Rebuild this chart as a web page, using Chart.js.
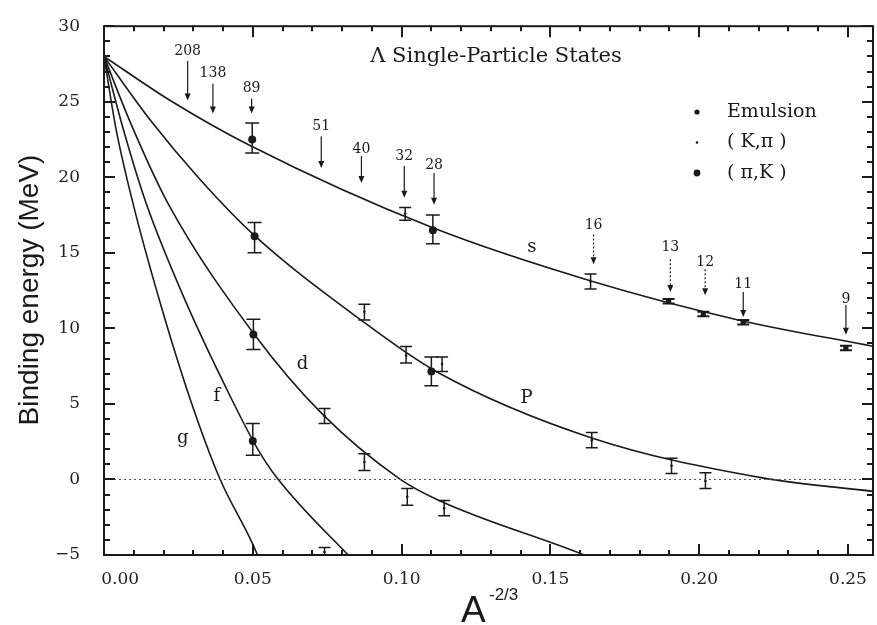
<!DOCTYPE html>
<html lang="en">
<head>
<meta charset="UTF-8">
<title>Lambda Single-Particle States</title>
<script src="https://cdn.jsdelivr.net/npm/chart.js"></script>
<style>
  html, body { margin: 0; padding: 0; background: #fff; }
</style>
</head>
<body>
<canvas id="myChart" width="877" height="625"></canvas>
<script>
// x = A^-2/3 of the core, y = Lambda binding energy (MeV)

// theory curves, one per orbit
const sCurveX = [0, 0.0221, 0.0489, 0.1103, 0.1639, 0.2131, 0.2590];
const sCurveY = [28.0, 25.1, 22.12, 16.67, 13.12, 10.56, 8.79];
const pCurveX = [0, 0.0154, 0.0322, 0.0506, 0.0858, 0.1116, 0.1639, 0.2208, 0.2590];
const pCurveY = [28.0, 23.82, 19.87, 16.14, 10.63, 7.15, 2.75, 0.12, -0.80];
const dCurveX = [0, 0.0087, 0.0214, 0.0506, 0.0734, 0.0992, 0.1126, 0.1605, 0.1629];
const dCurveY = [28.0, 23.7, 18.31, 9.58, 4.32, 0.06, -1.39, -4.93, -5.13];
const fCurveX = [0, 0.0064, 0.0141, 0.0275, 0.0429, 0.0516, 0.0583, 0.0814, 0.0831];
const fCurveY = [28.0, 23.24, 18.31, 11.75, 5.31, 2.03, 0.06, -4.87, -5.2];
const gCurveX = [0, 0.0040, 0.0097, 0.0188, 0.0292, 0.0389, 0.0513, 0.0519];
const gCurveY = [28.0, 23.24, 18.31, 11.75, 5.18, 0.06, -4.87, -5.2];

// (pi,K) points
const pikX  = [0.0498, 0.1105, 0.0506, 0.1100, 0.0502, 0.0500];
const pikY  = [22.5, 16.5, 16.1, 7.15, 9.6, 2.55];
const pikLo = [21.6, 15.6, 15.0, 6.2, 8.6, 1.6];
const pikHi = [23.6, 17.5, 17.0, 8.1, 10.6, 3.7];

// (K,pi) points
const kpiX  = [0.1012, 0.1635, 0.0875, 0.1015, 0.1136, 0.1639, 0.1907, 0.2021, 0.0741, 0.0875, 0.1019, 0.1143, 0.0741];
const kpiY  = [17.6, 13.1, 11.1, 8.2, 7.65, 2.6, 0.9, -0.1, 4.2, 1.15, -1.15, -1.9, -4.8];
const kpiLo = [17.15, 12.6, 10.55, 7.7, 7.15, 2.1, 0.4, -0.6, 3.7, 0.6, -1.7, -2.4, -5.1];
const kpiHi = [18.0, 13.6, 11.6, 8.8, 8.1, 3.1, 1.4, 0.45, 4.7, 1.7, -0.6, -1.4, -4.5];

// emulsion points
const emuX  = [0.1897, 0.2014, 0.2148, 0.2493];
const emuY  = [11.8, 10.95, 10.4, 8.7];
const emuLo = [11.65, 10.8, 10.25, 8.55];
const emuHi = [11.95, 11.1, 10.55, 8.85];

// mass number arrows
const arrowText  = ['208', '138', '89', '51', '40', '32', '28', '16', '13', '12', '11', '9'];
const arrowX     = [0.0281, 0.0366, 0.0496, 0.0730, 0.0865, 0.1009, 0.1109, 0.1645, 0.1903, 0.2020, 0.2148, 0.2493];
const arrowTextY = [28.36, 26.85, 25.86, 23.37, 21.86, 21.4, 20.81, 16.8, 15.36, 14.37, 12.93, 11.94];
const arrowTop   = [27.70, 26.19, 25.2, 22.71, 21.4, 20.74, 20.28, 16.21, 14.57, 13.91, 12.4, 11.55];
const arrowTip   = [25.08, 24.22, 24.22, 20.61, 19.63, 18.64, 18.18, 14.24, 12.4, 12.2, 10.76, 9.58];
const dottedArrows = ['16', '13', '12'];

// curve names
const curveNames = ['s', 'P', 'd', 'f', 'g'];
const curveNameX = [0.1438, 0.1420, 0.0667, 0.0379, 0.0265];
const curveNameY = [15.36, 5.38, 7.61, 5.51, 2.75];

const zeroX = [0, 0.2584];
const zeroY = [0, 0];

const pts = (xs, ys) => xs.map((v, i) => ({ x: v, y: ys[i] }));
const errPts = (xs, ys, lo, hi) => xs.map((v, i) => ({ x: v, y: ys[i], lo: lo[i], hi: hi[i] }));

const serif = '"DejaVu Serif", "Liberation Serif", serif';
const sans = '"Liberation Sans", Arial, sans-serif';
const ink = '#1a1a1a';

function curve(xs, ys) {
    return {
        data: pts(xs, ys),
        showLine: true,
        borderColor: ink,
        borderWidth: 1.6,
        pointRadius: 0,
        cubicInterpolationMode: 'monotone'
    };
}

const decorations = {
    id: 'decorations',
    beforeDatasetsDraw(chart) {
        const { ctx, scales: { x, y } } = chart;
        const a = chart.chartArea;
        ctx.save();
        ctx.beginPath();
        ctx.rect(a.left, a.top, a.width, a.height);
        ctx.clip();
        // error bars
        chart.data.datasets.forEach(ds => {
            if (!ds.errorBars) return;
            ds.data.forEach(p => {
                const px = x.getPixelForValue(p.x);
                const t = y.getPixelForValue(p.hi);
                const b = y.getPixelForValue(p.lo);
                const w = ds.capWidth;
                ctx.strokeStyle = ink;
                ctx.lineWidth = ds.barWidth;
                ctx.beginPath();
                ctx.moveTo(px, t); ctx.lineTo(px, b);
                ctx.moveTo(px - w, t); ctx.lineTo(px + w, t);
                ctx.moveTo(px - w, b); ctx.lineTo(px + w, b);
                ctx.stroke();
            });
        });
        ctx.restore();
    },
    afterDraw(chart) {
        const { ctx, scales: { x, y } } = chart;
        const a = chart.chartArea;
        ctx.save();
        ctx.setLineDash([]);

        // frame
        ctx.strokeStyle = ink;
        ctx.lineWidth = 2;
        ctx.strokeRect(a.left, a.top, a.width, a.height);

        // inward ticks on all four sides
        ctx.fillStyle = ink;
        for (let i = 0; i <= 25; i++) {
            const px = Math.round(x.getPixelForValue(i / 100));
            const len = i % 5 === 0 ? 11 : 5;
            ctx.fillRect(px - 1, a.bottom - len, 2, len);
            ctx.fillRect(px - 1, a.top, 2, len);
        }
        for (let v = -5; v <= 30; v++) {
            const py = Math.round(y.getPixelForValue(v));
            const len = v % 5 === 0 ? 11 : 6;
            ctx.fillRect(a.left, py - 1, len, 2);
            ctx.fillRect(a.right - len, py - 1, len, 2);
        }

        // mass number arrows
        ctx.font = '14px ' + serif;
        ctx.textAlign = 'center';
        ctx.textBaseline = 'middle';
        arrowText.forEach((txt, i) => {
            const px = x.getPixelForValue(arrowX[i]);
            const top = y.getPixelForValue(arrowTop[i]);
            const tip = y.getPixelForValue(arrowTip[i]);
            ctx.fillText(txt, px, y.getPixelForValue(arrowTextY[i]));
            ctx.lineWidth = 1.2;
            ctx.setLineDash(dottedArrows.includes(txt) ? [2, 2] : []);
            ctx.beginPath();
            ctx.moveTo(px, top); ctx.lineTo(px, tip - 5);
            ctx.stroke();
            ctx.setLineDash([]);
            ctx.beginPath();
            ctx.moveTo(px - 3, tip - 7); ctx.lineTo(px + 3, tip - 7); ctx.lineTo(px, tip);
            ctx.closePath();
            ctx.fill();
        });

        // curve names
        ctx.font = '18px ' + serif;
        curveNames.forEach((n, i) => {
            ctx.fillText(n, x.getPixelForValue(curveNameX[i]), y.getPixelForValue(curveNameY[i]));
        });

        // title inside the plot
        ctx.font = '21px ' + serif;
        ctx.fillText('\u039B Single-Particle States', 496, 57);

        // legend
        ctx.textAlign = 'left';
        ctx.font = '19px ' + serif;
        const legend = [['Emulsion', 2.6], ['( K,\u03C0 )', 1.3], ['( \u03C0,K )', 3.4]];
        legend.forEach((item, i) => {
            const ly = 112 + i * 30.5;
            ctx.beginPath();
            ctx.arc(697, ly, item[1], 0, Math.PI * 2);
            ctx.fill();
            ctx.fillText(item[0], 727, ly);
        });

        // axis titles
        ctx.font = '28px ' + sans;
        ctx.textAlign = 'center';
        ctx.save();
        ctx.translate(30, 290);
        ctx.rotate(-Math.PI / 2);
        ctx.fillText('Binding energy (MeV)', 0, 0);
        ctx.restore();

        ctx.textAlign = 'left';
        ctx.textBaseline = 'alphabetic';
        ctx.font = '37px ' + sans;
        ctx.fillText('A', 461, 622);
        ctx.font = '17px ' + sans;
        ctx.fillText('-2/3', 489, 600);

        ctx.restore();
    }
};

const ctx = document.getElementById('myChart').getContext('2d');
new Chart(ctx, {
    type: 'scatter',
    data: {
        datasets: [
            {
                data: pts(zeroX, zeroY),
                showLine: true,
                borderColor: '#555',
                borderWidth: 1,
                borderDash: [2, 3],
                pointRadius: 0
            },
            curve(sCurveX, sCurveY),
            curve(pCurveX, pCurveY),
            curve(dCurveX, dCurveY),
            curve(fCurveX, fCurveY),
            curve(gCurveX, gCurveY),
            {
                label: '( K,\u03C0 )',
                data: errPts(kpiX, kpiY, kpiLo, kpiHi),
                errorBars: true, capWidth: 6, barWidth: 1.5,
                pointRadius: 1.3,
                backgroundColor: ink,
                borderColor: ink,
                borderWidth: 0
            },
            {
                label: 'Emulsion',
                data: errPts(emuX, emuY, emuLo, emuHi),
                errorBars: true, capWidth: 6, barWidth: 2,
                pointRadius: 3,
                pointStyle: 'rectRounded',
                backgroundColor: ink,
                borderColor: ink,
                borderWidth: 0
            },
            {
                label: '( \u03C0,K )',
                data: errPts(pikX, pikY, pikLo, pikHi),
                errorBars: true, capWidth: 7, barWidth: 1.5,
                pointRadius: 4,
                backgroundColor: ink,
                borderColor: ink,
                borderWidth: 0
            }
        ]
    },
    options: {
        responsive: false,
        animation: false,
        devicePixelRatio: 1,
        layout: { padding: { left: 0, top: 22, right: 2, bottom: 0 } },
        plugins: {
            legend: { display: false },
            tooltip: { enabled: false }
        },
        scales: {
            x: {
                type: 'linear',
                min: 0,
                max: 0.2584,
                afterFit: s => { s.height = 70; },
                grid: { display: false },
                border: { display: false },
                ticks: {
                    stepSize: 0.05,
                    includeBounds: false,
                    padding: 6,
                    color: '#222',
                    font: { family: serif, size: 17 },
                    // the first label sits a little right of its tick, as in the original
                    callback: v => (v === 0 ? '      ' : '') + v.toFixed(2)
                }
            },
            y: {
                type: 'linear',
                min: -5,
                max: 30,
                afterFit: s => { s.width = 104; },
                grid: { display: false },
                border: { display: false },
                ticks: {
                    stepSize: 5,
                    includeBounds: false,
                    padding: 16,
                    color: '#222',
                    font: { family: serif, size: 17 },
                    callback: v => v < 0 ? '\u2212' + Math.abs(v) : String(v)
                }
            }
        }
    },
    plugins: [decorations]
});
</script>
</body>
</html>
